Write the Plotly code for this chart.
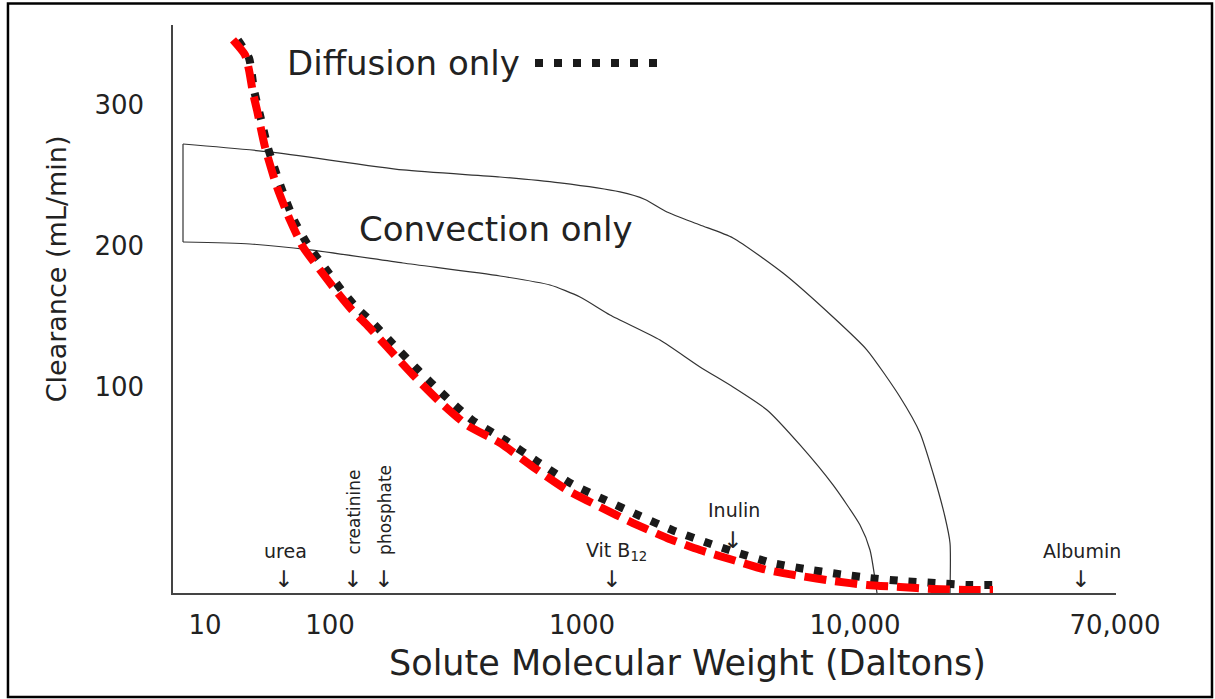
import plotly.graph_objects as go

# ---------------- data (schematic chart units) ----------------
# x: position along the schematic molecular-weight axis; y: clearance (mL/min) on the drawn scale
x_tick_pos = [32, 157, 409, 682, 942]
x_tick_text = ["10", "100", "1000", "10,000", "70,000"]
y_tick_vals = [100, 200, 300]

diff_red_x = [60, 72, 76, 80, 84, 92, 104, 117, 130, 147, 164, 179, 194, 214, 240, 267, 294,
              327, 360, 394, 427, 460, 494, 527, 560, 594, 627, 660, 694, 727, 760, 794, 820]
diff_red_y = [346.1, 335.5, 324.8, 308.5, 296.4, 270.2, 241.8, 218.4, 199.3, 183.0, 167.4,
              154.6, 144.0, 128.4, 108.5, 89.4, 73.0, 60.3, 43.3, 27.0, 14.9, 3.5, -7.1,
              -15.6, -22.7, -29.8, -34.0, -37.6, -40.4, -41.8, -43.3, -44.0, -44.0]

diff_blk_x = [65, 76, 81, 87, 95, 108, 121, 135, 152, 170, 184, 199, 219, 245, 272, 299, 332,
              365, 399, 432, 467, 499, 532, 565, 599, 632, 665, 697, 730, 762, 794, 822]
diff_blk_y = [346.1, 333.3, 310.6, 292.9, 269.5, 241.8, 218.4, 200.7, 184.4, 167.4, 156.0,
              146.1, 131.2, 112.1, 93.6, 76.6, 62.4, 46.8, 31.2, 19.9, 8.5, -1.4, -9.9,
              -17.7, -24.8, -29.1, -32.6, -35.5, -37.6, -39.0, -40.4, -40.4]

conv_up_x = [10, 97, 230, 327, 387, 447, 472, 494, 527, 560, 610, 660, 694, 727, 747, 760, 772, 777, 777]
conv_up_y = [272.3, 266.7, 253.9, 248.9, 244.7, 238.3, 233.0, 224.1, 214.9, 205.7, 180.8,
             149.6, 126.2, 92.9, 67.4, 39.0, 7.8, -10.6, -46.1]

conv_lo_x = [10, 77, 137, 230, 327, 377, 407, 437, 487, 527, 560, 594, 627, 660, 687, 697, 704]
conv_lo_y = [202.8, 201.4, 197.2, 187.9, 178.7, 172.3, 163.8, 151.1, 133.3, 114.2, 100.0,
             83.7, 58.9, 30.5, 2.1, -15.6, -46.1]

solutes = ["urea", "creatinine", "phosphate", "Vit B<sub>12</sub>", "Inulin", "Albumin"]
solute_x = [110, 179, 210, 438, 559, 907]

# ---------------- figure ----------------
FONT = "DejaVu Sans"
INK = "#222222"
THIN = dict(color="#333333", width=1.2)

fig = go.Figure()

# convection band outline: lower curve, upper curve, left closing edge
fig.add_trace(go.Scatter(x=conv_lo_x, y=conv_lo_y, mode="lines",
                         line=dict(**THIN, shape="spline", smoothing=0.6),
                         hoverinfo="skip", showlegend=False))
fig.add_trace(go.Scatter(x=conv_up_x, y=conv_up_y, mode="lines",
                         line=dict(**THIN, shape="spline", smoothing=0.6),
                         hoverinfo="skip", showlegend=False))
fig.add_trace(go.Scatter(x=[conv_lo_x[0], conv_up_x[0]], y=[conv_lo_y[0], conv_up_y[0]],
                         mode="lines", line=THIN, hoverinfo="skip", showlegend=False))

fig.add_trace(go.Scatter(
    x=diff_blk_x, y=diff_blk_y, mode="lines",
    line=dict(color="#1a1a1a", width=8, dash="8px,11px", shape="spline", smoothing=0.6),
    hoverinfo="skip", showlegend=False))

fig.add_trace(go.Scatter(
    x=diff_red_x, y=diff_red_y, mode="lines",
    line=dict(color="#ff0000", width=8, dash="22px,9px", shape="spline", smoothing=0.6),
    hoverinfo="skip", showlegend=False))

# legend-like key next to "Diffusion only"
fig.add_shape(type="line", xref="x", yref="y", x0=362, x1=489, y0=329.8, y1=329.8,
              line=dict(color="#1a1a1a", width=8, dash="8px,11px"))

fig.add_annotation(x=230, y=329.8, xref="x", yref="y", text="Diffusion only", showarrow=False,
                   font=dict(family=FONT, size=34, color=INK), xanchor="center", yanchor="middle")
fig.add_annotation(x=323, y=212, xref="x", yref="y", text="Convection only", showarrow=False,
                   font=dict(family=FONT, size=34, color=INK), xanchor="center", yanchor="middle")

# solute markers
arrow_font = dict(family="DejaVu Sans", size=23, color=INK)
lab_font = dict(family=FONT, size=19, color=INK)
for name, sx in zip(solutes, solute_x):
    if name == "Inulin":
        arrow_y, lab_y = -8.5, 13.0
    else:
        arrow_y, lab_y = -36.2, -16.5
    fig.add_annotation(x=sx, y=arrow_y, xref="x", yref="y", text="↓", showarrow=False,
                       font=arrow_font, xanchor="center", yanchor="middle")
    if name in ("creatinine", "phosphate"):
        fig.add_annotation(x=sx + 2, y=-20.5, xref="x", yref="y", text=name, showarrow=False,
                           textangle=-90, font=dict(family=FONT, size=17, color=INK),
                           xanchor="center", yanchor="bottom")
    else:
        fig.add_annotation(x=sx + (5 if "Vit" in name else 2), y=lab_y, xref="x", yref="y",
                           text=name, showarrow=False, font=lab_font,
                           xanchor="center", yanchor="middle")

# axis titles as annotations (positioned like the reference)
fig.add_annotation(x=-0.124, y=0.570, xref="paper", yref="paper", text="Clearance (mL/min)",
                   textangle=-90, showarrow=False, font=dict(family=FONT, size=27, color=INK),
                   xanchor="center", yanchor="middle")
fig.add_annotation(x=0.546, y=-0.123, xref="paper", yref="paper",
                   text="Solute Molecular Weight (Daltons)", showarrow=False,
                   font=dict(family=FONT, size=35, color=INK), xanchor="center", yanchor="middle")

# outer frame
fig.add_shape(type="rect", xref="paper", yref="paper", x0=-0.175, x1=1.1018, y0=-0.1831, y1=1.0379,
              line=dict(color="black", width=2.5), fillcolor="rgba(0,0,0,0)")

fig.update_xaxes(range=[0, 943], showline=True, linecolor="#444444", linewidth=1.5,
                 tickmode="array", tickvals=x_tick_pos, ticktext=x_tick_text, ticks="",
                 ticklabelstandoff=8, showgrid=False, zeroline=False,
                 tickfont=dict(family=FONT, size=26, color=INK))
fig.update_yaxes(range=[-46.1, 356.7], showline=True, linecolor="#444444", linewidth=1.5,
                 tickmode="array", tickvals=y_tick_vals, ticks="", ticklabelstandoff=22,
                 showgrid=False, zeroline=False,
                 tickfont=dict(family=FONT, size=26, color=INK))

fig.update_layout(width=1215, height=699, margin=dict(l=173, r=99, t=25, b=106),
                  paper_bgcolor="white", plot_bgcolor="white", showlegend=False)

fig.write_html("out.html")
